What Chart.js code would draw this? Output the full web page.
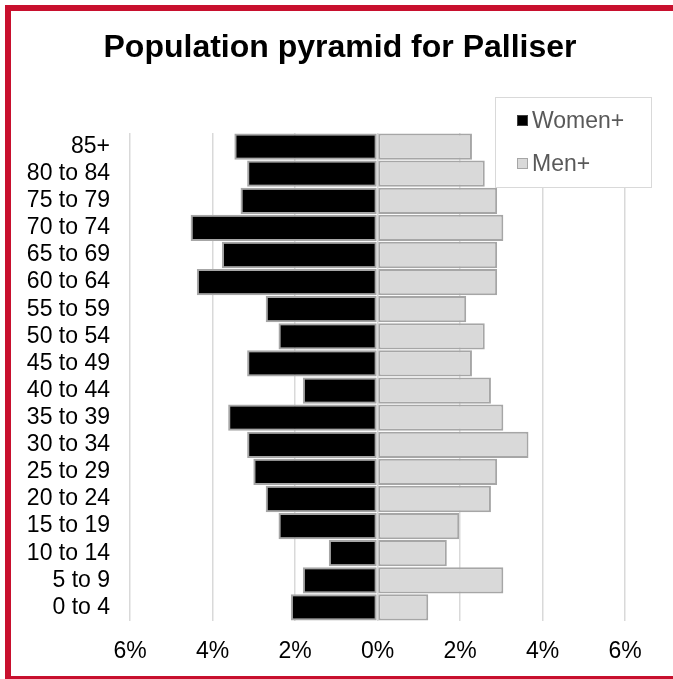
<!DOCTYPE html>
<html>
<head>
<meta charset="utf-8">
<script src="https://cdn.jsdelivr.net/npm/chart.js@4"></script>
<style>
  html, body { margin: 0; padding: 0; background: #ffffff; overflow: hidden; }
  #frame { position: absolute; left: 5px; top: 5px; width: 700px; height: 677px; border: 6px solid #C8102E; box-sizing: border-box; }
  #c { position: absolute; left: 0; top: 0; }
</style>
</head>
<body>
<div id="frame"></div>
<canvas id="c" width="673" height="679"></canvas>
<script>
const ageGroups = ["85+", "80 to 84", "75 to 79", "70 to 74", "65 to 69", "60 to 64", "55 to 59", "50 to 54", "45 to 49", "40 to 44", "35 to 39", "30 to 34", "25 to 29", "20 to 24", "15 to 19", "10 to 14", "5 to 9", "0 to 4"];
const womenPct = [3.47, 3.16, 3.32, 4.53, 3.77, 4.38, 2.71, 2.40, 3.16, 1.81, 3.62, 3.16, 3.01, 2.71, 2.40, 1.18, 1.81, 2.10];
const menPct = [2.29, 2.60, 2.90, 3.05, 2.90, 2.90, 2.15, 2.60, 2.29, 2.75, 3.05, 3.66, 2.90, 2.75, 1.98, 1.68, 3.05, 1.23];
const seriesNames = ["Women+", "Men+"];
const xTicks = [-6, -4, -2, 0, 2, 4, 6];

const FONT = "Arial, 'Liberation Sans', sans-serif";

const legendPlugin = {
  id: 'boxLegend',
  afterDraw(chart) {
    const ctx = chart.ctx;
    ctx.save();
    const bx = 495.5, by = 97.5, bw = 156, bh = 90;
    ctx.fillStyle = '#ffffff';
    ctx.fillRect(bx, by, bw, bh);
    ctx.strokeStyle = '#D9D9D9';
    ctx.lineWidth = 1;
    ctx.strokeRect(bx, by, bw, bh);
    const items = [
      { text: seriesNames[0], fill: '#000000', stroke: '#404040', y: 121 },
      { text: seriesNames[1], fill: '#D9D9D9', stroke: '#A6A6A6', y: 164 }
    ];
    ctx.font = '23px ' + FONT;
    ctx.textBaseline = 'middle';
    ctx.textAlign = 'left';
    for (const it of items) {
      ctx.fillStyle = it.fill;
      ctx.fillRect(517, it.y - 6, 11, 11);
      ctx.strokeStyle = it.stroke;
      ctx.lineWidth = 1;
      ctx.strokeRect(517.5, it.y - 5.5, 10, 10);
      ctx.fillStyle = '#595959';
      ctx.fillText(it.text, 532, it.y + 1);
    }
    ctx.restore();
  }
};

new Chart(document.getElementById('c'), {
  type: 'bar',
  data: {
    labels: ageGroups,
    datasets: [
      {
        label: seriesNames[0],
        data: womenPct.map(v => -v),
        backgroundColor: '#000000',
        borderColor: '#A6A6A6',
        borderWidth: 2,
        borderSkipped: false
      },
      {
        label: seriesNames[1],
        data: menPct,
        backgroundColor: '#D9D9D9',
        borderColor: '#A6A6A6',
        borderWidth: 2,
        borderSkipped: false
      }
    ]
  },
  options: {
    indexAxis: 'y',
    responsive: false,
    animation: false,
    devicePixelRatio: 1,
    barPercentage: 1.0,
    categoryPercentage: 0.97,
    layout: { padding: { left: 7, right: 0, top: 0, bottom: 0 } },
    plugins: {
      legend: { display: false },
      tooltip: { enabled: false },
      title: {
        display: true,
        text: 'Population pyramid for Palliser',
        color: '#000000',
        font: { family: FONT, size: 32, weight: 'bold' },
        padding: { top: 29, bottom: 65.6 }
      }
    },
    scales: {
      x: {
        type: 'linear',
        min: -6,
        max: 6,
        stacked: true,
        afterBuildTicks(scale) { scale.ticks = xTicks.map(v => ({ value: v })); },
        afterFit(scale) { scale.height = 58; },
        ticks: {
          color: '#000000',
          font: { family: FONT, size: 23 },
          padding: 17,
          callback: v => Math.abs(v) + '%'
        },
        grid: { color: '#D9D9D9', lineWidth: 1.5, drawTicks: false },
        border: { display: false }
      },
      y: {
        type: 'category',
        stacked: true,
        afterFit(scale) { scale.width = 123; },
        ticks: {
          color: '#000000',
          font: { family: FONT, size: 23 },
          padding: 20,
          autoSkip: false
        },
        grid: { display: false, drawTicks: false },
        border: { display: false }
      },
      yRight: {
        type: 'linear',
        position: 'right',
        display: true,
        afterFit(scale) { scale.width = 48; },
        ticks: { display: false },
        grid: { display: false, drawTicks: false },
        border: { display: false }
      }
    }
  },
  plugins: [legendPlugin]
});
</script>
</body>
</html>
